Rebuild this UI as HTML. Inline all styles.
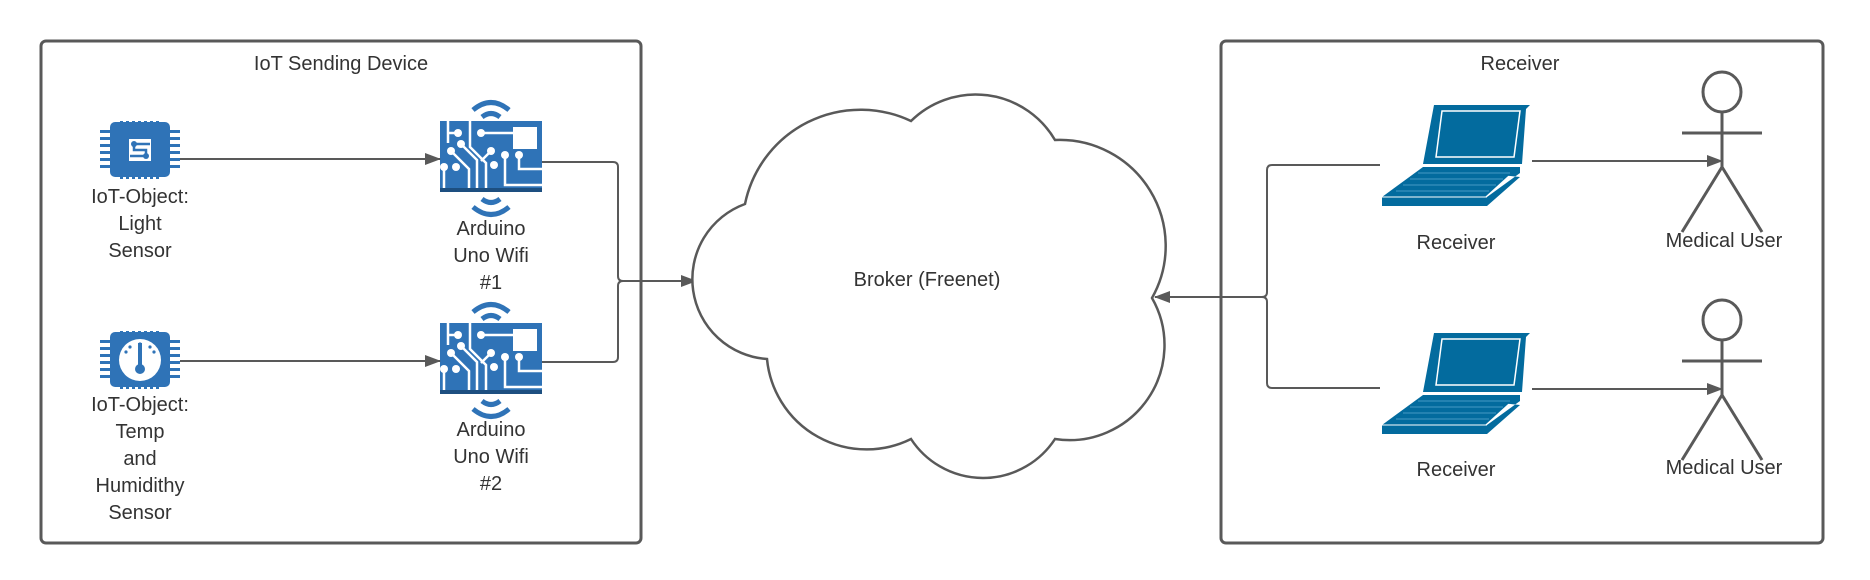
<!DOCTYPE html>
<html><head><meta charset="utf-8"><style>
html,body{margin:0;padding:0;background:#fff;}
svg{display:block;}
text{font-family:"Liberation Sans",Arial,sans-serif;fill:#333;font-size:20px;text-anchor:middle;}
</style></head><body>
<svg width="1870" height="580" viewBox="0 0 1870 580" xmlns="http://www.w3.org/2000/svg">
<defs>
<marker id="ah" markerWidth="16" markerHeight="12" refX="15" refY="6" orient="auto" markerUnits="userSpaceOnUse">
<path d="M0,0 L16,6 L0,12 Z" fill="#595959"/>
</marker>
<g id="chip">
  <g fill="#2f73b7">
    <rect x="-20" y="-29" width="3" height="10"/><rect x="-14" y="-29" width="3" height="10"/><rect x="-8" y="-29" width="3" height="10"/><rect x="-2" y="-29" width="3" height="10"/><rect x="4" y="-29" width="3" height="10"/><rect x="10" y="-29" width="3" height="10"/><rect x="16" y="-29" width="3" height="10"/>
    <rect x="-20" y="19" width="3" height="10"/><rect x="-14" y="19" width="3" height="10"/><rect x="-8" y="19" width="3" height="10"/><rect x="-2" y="19" width="3" height="10"/><rect x="4" y="19" width="3" height="10"/><rect x="10" y="19" width="3" height="10"/><rect x="16" y="19" width="3" height="10"/>
    <rect x="-40" y="-20" width="12" height="3"/><rect x="-40" y="-13" width="12" height="3"/><rect x="-40" y="-6" width="12" height="3"/><rect x="-40" y="1" width="12" height="3"/><rect x="-40" y="8" width="12" height="3"/><rect x="-40" y="15" width="12" height="3"/>
    <rect x="28" y="-20" width="12" height="3"/><rect x="28" y="-13" width="12" height="3"/><rect x="28" y="-6" width="12" height="3"/><rect x="28" y="1" width="12" height="3"/><rect x="28" y="8" width="12" height="3"/><rect x="28" y="15" width="12" height="3"/>
    <rect x="-30" y="-28" width="60" height="55" rx="5"/>
  </g>
</g>
<g id="ard">
  <path d="M-18,-47 Q0,-62 18,-47" stroke="#2f73b7" stroke-width="5" fill="none"/>
  <path d="M-9,-40 Q0,-47 9,-40" stroke="#2f73b7" stroke-width="5" fill="none"/>
  <path d="M-18,50 Q0,65 18,50" stroke="#2f73b7" stroke-width="5" fill="none"/>
  <path d="M-9,42 Q0,49 9,42" stroke="#2f73b7" stroke-width="5" fill="none"/>
  <rect x="-51" y="-36" width="102" height="71" fill="#2f73b7"/>
  <rect x="-51" y="31" width="102" height="4" fill="#1d4f80"/>
  <rect x="22" y="-30" width="24" height="22" fill="#fff"/>
  <g stroke="#fff" stroke-width="2.5" fill="none">
    <path d="M-43,-36 V-14 M-43,-24 H-33"/>
    <path d="M-21,-36 V-10 L-5,6 V31"/>
    <path d="M-10,-24 H22"/>
    <path d="M-40,-6 L-22,12 V31"/>
    <path d="M-30,-13 L-14,3 V31"/>
    <path d="M0,-6 L-10,4"/>
    <path d="M14,-2 V28 H51"/>
    <path d="M28,-2 V12 H51"/>
    <path d="M-47,31 V12"/>
  </g>
  <g fill="#fff">
    <circle cx="-33" cy="-24" r="4"/><circle cx="-10" cy="-24" r="4"/><circle cx="-30" cy="-13" r="4"/>
    <circle cx="0" cy="-6" r="4"/><circle cx="-40" cy="-6" r="4"/><circle cx="-47" cy="10" r="4"/>
    <circle cx="-35" cy="10" r="4"/><circle cx="3" cy="8" r="4"/><circle cx="14" cy="-2" r="4"/><circle cx="28" cy="-2" r="4"/>
  </g>
</g>
<g id="laptop">
  <polygon points="52,0 148,0 144,4 140,59 41,59" fill="#036b9e"/>
  <polygon points="60,6 138,6 132,52 54,52" fill="none" stroke="#fff" stroke-width="1.5"/>
  <polygon points="41,62 138,62 138,68 105,92 0,92 0,101 105,101 138,72" fill="#036b9e"/>
  <polygon points="41,62 136,62 103,92 0,92" fill="#036b9e"/>
  <g stroke="#5ca9d0" stroke-width="0.8">
    <line x1="36" y1="68" x2="128" y2="68"/><line x1="28" y1="74" x2="121" y2="74"/><line x1="21" y1="80" x2="114" y2="80"/><line x1="14" y1="86" x2="107" y2="86"/>
  </g>
  <line x1="0" y1="92" x2="105" y2="92" stroke="#fff" stroke-width="1"/>
</g>
<g id="actor" stroke="#595959" stroke-width="3" fill="none">
  <ellipse cx="0" cy="0" rx="19" ry="20"/>
  <line x1="0" y1="20" x2="0" y2="75"/>
  <line x1="-40" y1="41" x2="40" y2="41"/>
  <line x1="0" y1="75" x2="-40" y2="140"/>
  <line x1="0" y1="75" x2="40" y2="140"/>
</g>
</defs>

<rect x="41" y="41" width="600" height="502" rx="5" fill="none" stroke="#595959" stroke-width="3"/>
<rect x="1221" y="41" width="602" height="502" rx="5" fill="none" stroke="#595959" stroke-width="3"/>
<text x="341" y="70">IoT Sending Device</text>
<text x="1520" y="70">Receiver</text>

<use href="#chip" x="140" y="150"/>
<use href="#chip" x="140" y="360"/>
<circle cx="140" cy="360" r="21" fill="#fff"/>
<g fill="#2f73b7"><rect x="138" y="343" width="4" height="24"/><circle cx="140" cy="369" r="5"/>
<circle cx="130" cy="347" r="1.6"/><circle cx="150" cy="347" r="1.6"/><circle cx="140" cy="344" r="1.6"/><circle cx="126" cy="352" r="1.6"/><circle cx="154" cy="352" r="1.6"/></g>
<g fill="#fff"><rect x="129" y="139" width="22" height="22"/></g>
<g stroke="#2f73b7" stroke-width="2.5" fill="none"><path d="M150,144 H134 V150 H146 V156 H130"/></g>
<g fill="#2f73b7"><circle cx="134" cy="144" r="3"/><circle cx="146" cy="156" r="3"/></g>

<text x="140" y="203">IoT-Object:</text>
<text x="140" y="230">Light</text>
<text x="140" y="257">Sensor</text>
<text x="140" y="411">IoT-Object:</text>
<text x="140" y="438">Temp</text>
<text x="140" y="465">and</text>
<text x="140" y="492">Humidithy</text>
<text x="140" y="519">Sensor</text>

<use href="#ard" x="491" y="157"/>
<use href="#ard" x="491" y="359"/>
<text x="491" y="235">Arduino</text>
<text x="491" y="262">Uno Wifi</text>
<text x="491" y="289">#1</text>
<text x="491" y="436">Arduino</text>
<text x="491" y="463">Uno Wifi</text>
<text x="491" y="490">#2</text>

<g stroke="#595959" stroke-width="2" fill="none">
<line x1="180" y1="159" x2="440" y2="159" marker-end="url(#ah)"/>
<line x1="180" y1="361" x2="440" y2="361" marker-end="url(#ah)"/>
<path d="M542,162 H613 Q618,162 618,167 V276 Q618,281 623,281 H696" marker-end="url(#ah)"/>
<path d="M542,362 H613 Q618,362 618,357 V286 Q618,281 623,281"/>
</g>

<path d="M745,204 A118,118 0 0 1 911,121 A92,92 0 0 1 1055,140 A106,106 0 0 1 1152,298 A95,95 0 0 1 1055,439 A86,86 0 0 1 911,439 A100,100 0 0 1 767,359 A80,80 0 0 1 745,204 Z" fill="#fff" stroke="#595959" stroke-width="2.5"/>
<text x="927" y="286">Broker (Freenet)</text>

<g stroke="#595959" stroke-width="2" fill="none">
<path d="M1380,165 H1272 Q1267,165 1267,170 V292 Q1267,297 1262,297 H1155" marker-end="url(#ah)"/>
<path d="M1380,388 H1272 Q1267,388 1267,383 V302 Q1267,297 1262,297"/>
<line x1="1532" y1="161" x2="1722" y2="161" marker-end="url(#ah)"/>
<line x1="1532" y1="389" x2="1722" y2="389" marker-end="url(#ah)"/>
</g>

<use href="#laptop" x="1382" y="105"/>
<use href="#laptop" x="1382" y="333"/>
<text x="1456" y="249">Receiver</text>
<text x="1456" y="476">Receiver</text>

<use href="#actor" x="1722" y="92"/>
<use href="#actor" x="1722" y="320"/>
<text x="1724" y="247">Medical User</text>
<text x="1724" y="474">Medical User</text>
</svg>
</body></html>
